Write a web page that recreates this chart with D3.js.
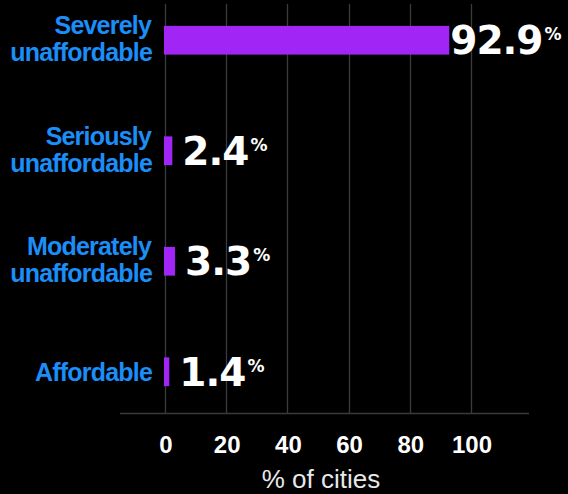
<!DOCTYPE html>
<html lang="en">
	<head>
		<meta charset="utf-8">
		<title>D3: housing affordability bars</title>
		<script src="https://d3js.org/d3.v7.min.js"></script>
		<style type="text/css">
			body { margin: 0; background: #000; }
		</style>
	</head>
	<body>
		<script type="text/javascript">
			// data
			var categories = ["Severely unaffordable", "Seriously unaffordable", "Moderately unaffordable", "Affordable"];
			var labelLines = [["Severely", "unaffordable"], ["Seriously", "unaffordable"], ["Moderately", "unaffordable"], ["Affordable"]];
			var values = [92.9, 2.4, 3.3, 1.4];
			var tickValues = [0, 20, 40, 60, 80, 100];
			var axisTitle = "% of cities";

			var w = 568, h = 494;
			var blue = "#1b8ef8", purple = "#a126f6", grid = "#3a3b3e";

			var svg = d3.select("body").append("svg")
				.attr("width", w)
				.attr("height", h)
				.style("background", "#000");

			var x = d3.scaleLinear()
				.domain([0, 100])
				.range([165, 471]);

			var y = d3.scaleBand()
				.domain(categories)
				.range([-15, 427])
				.paddingInner(0.74)
				.paddingOuter(0.37);

			var axisY = 413.5;

			// gridlines
			svg.append("g")
				.selectAll("line")
				.data(tickValues)
				.enter()
				.append("line")
				.attr("x1", function(d){ return Math.round(x(d)) + 0.5; })
				.attr("x2", function(d){ return Math.round(x(d)) + 0.5; })
				.attr("y1", 4)
				.attr("y2", axisY)
				.attr("stroke", grid)
				.attr("stroke-width", 1.3);

			// axis line
			svg.append("line")
				.attr("x1", 120)
				.attr("x2", 529)
				.attr("y1", axisY)
				.attr("y2", axisY)
				.attr("stroke", grid)
				.attr("stroke-width", 1.5);

			// tick labels
			svg.append("g")
				.selectAll("text")
				.data(tickValues)
				.enter()
				.append("text")
				.attr("x", function(d){ return x(d) + 1; })
				.attr("y", 453)
				.attr("text-anchor", "middle")
				.attr("fill", "#fff")
				.style("font-family", "'Liberation Sans', Arial, sans-serif")
				.style("font-weight", "bold")
				.style("font-size", "24px")
				.text(function(d){ return d; });

			// axis title
			svg.append("text")
				.attr("x", 321)
				.attr("y", 488)
				.attr("text-anchor", "middle")
				.attr("fill", "#e8e8e8")
				.style("font-family", "'Liberation Sans', Arial, sans-serif")
				.style("font-size", "26px")
				.text(axisTitle);

			// bars
			svg.append("g")
				.selectAll("rect")
				.data(values)
				.enter()
				.append("rect")
				.attr("x", x(0) - 1)
				.attr("y", function(d, i){ return y(categories[i]); })
				.attr("width", function(d){ return x(d) - x(0) + 1; })
				.attr("height", y.bandwidth())
				.attr("fill", purple);

			// category labels
			var cat = svg.append("g")
				.selectAll("text")
				.data(labelLines)
				.enter()
				.append("text")
				.attr("text-anchor", "end")
				.attr("fill", blue)
				.style("font-family", "'Liberation Sans', Arial, sans-serif")
				.style("font-weight", "bold")
				.style("font-size", "25px")
				.style("letter-spacing", "-0.8px");

			cat.each(function(lines, i){
				var mid = y(categories[i]) + y.bandwidth() / 2;
				var t = d3.select(this);
				if (lines.length == 1) {
					t.append("tspan").attr("x", 152).attr("y", mid + 9).text(lines[0]);
				} else {
					t.append("tspan").attr("x", 151).attr("y", mid - 6).text(lines[0]);
					t.append("tspan").attr("x", 152).attr("y", mid + 21).text(lines[1]);
				}
			});

			// value labels
			var val = svg.append("g")
				.selectAll("text")
				.data(values)
				.enter()
				.append("text")
				.attr("x", function(d){ return x(d) + (d > 50 ? 1 : 10); })
				.attr("y", function(d, i){ return y(categories[i]) + y.bandwidth() / 2 + 14; })
				.attr("fill", "#fff")
				.style("font-family", "'DejaVu Sans', sans-serif")
				.style("font-weight", "bold")
				.style("font-size", "39px")
				.style("letter-spacing", "-1px");

			val.append("tspan").text(function(d){ return d.toFixed(1); });
			val.append("tspan")
				.attr("dy", -14)
				.attr("dx", 2)
				.style("font-size", "17px")
				.text("%");
		</script>
	</body>
</html>
